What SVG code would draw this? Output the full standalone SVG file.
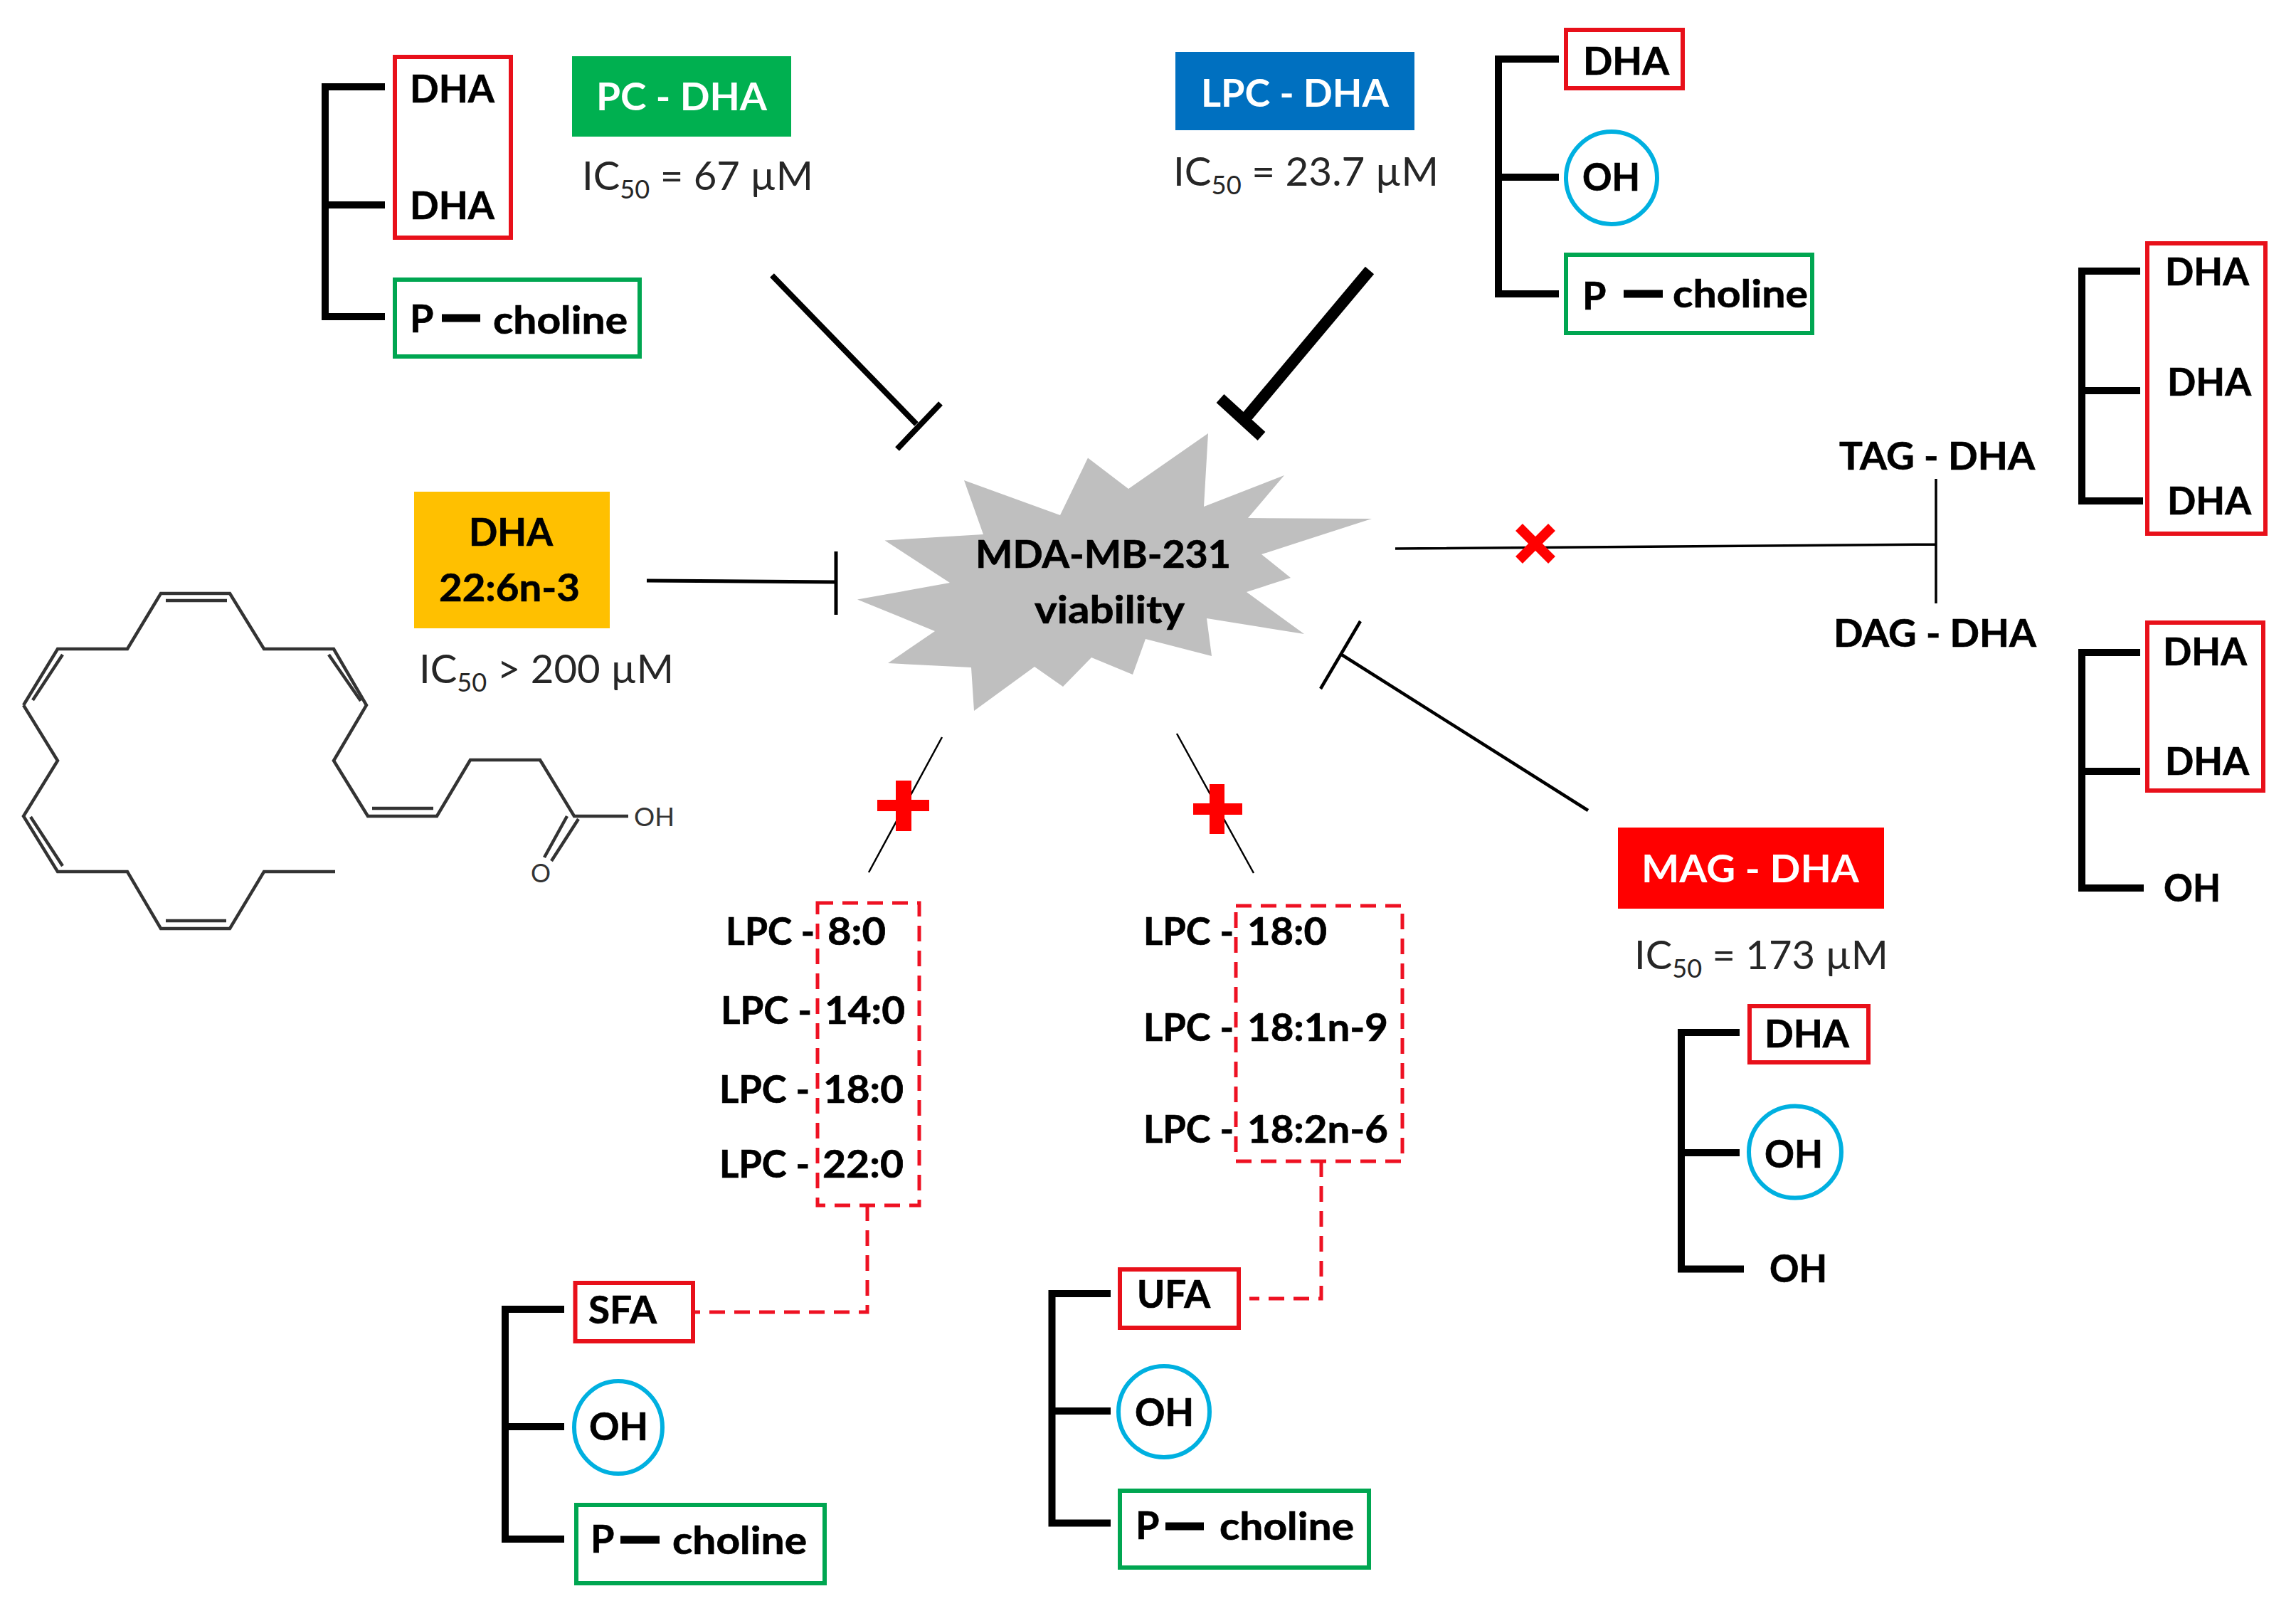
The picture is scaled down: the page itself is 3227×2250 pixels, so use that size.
<svg xmlns="http://www.w3.org/2000/svg" width="3227" height="2250" viewBox="0 0 3227 2250">
<style>
text{font-family:Lato,"Liberation Sans",sans-serif;fill:#000}
.b{font-weight:700;font-size:54px;stroke:#000;stroke-width:.7}
.w{font-weight:700;font-size:54px;fill:#fff}
.r{font-weight:400;font-size:56px;fill:#262626}
.s{font-size:36px}
.m{font-size:37px;fill:#333;font-weight:400}
.red{fill:#fff;stroke:#e8101a;stroke-width:6}
.grn{fill:#fff;stroke:#00a651;stroke-width:6}
.cyan{fill:#fff;stroke:#00b0e0;stroke-width:6}
.br{fill:none;stroke:#000;stroke-width:10;stroke-linejoin:miter}
.dash{stroke:#000;stroke-width:11}
.dsh{fill:none;stroke:#ee1122;stroke-width:5;stroke-dasharray:22 13}
.ln{fill:none;stroke:#000}
.mol{fill:none;stroke:#333;stroke-width:4.5;stroke-linejoin:miter}
</style>
<rect width="3227" height="2250" fill="#fff"/>
<g id="connectors">
<path class="ln" stroke-width="8" d="M1085 387L1288 596M1322 567L1261 631"/>
<path class="ln" stroke-width="16" d="M1925 380L1753 585M1715 560L1773 613"/>
<path class="ln" stroke-width="5" d="M909 816L1175 818M1175 775V864"/>
<path class="ln" stroke-width="3.5" stroke="#333" d="M1961 771L2721 765M2721 673V848"/>
<path class="ln" stroke-width="4.5" d="M1912 873L1856 968M1884 919L2232 1139"/>
<path class="ln" stroke-width="2.5" d="M1324 1036L1221 1226M1654 1031L1762 1227"/>
<path class="dsh" d="M1219 1694V1844H974M1857 1632V1825H1756"/>
</g>
<g id="burst">
<polygon fill="#bfbfbf" points="1243.5,759.5 1382,751 1355,675 1490,724 1529,643.5 1586,687 1698,609 1692,712 1805,668 1754,728 1928,729 1773,779 1814,812 1752,832 1833,891 1696,869 1703,922 1610,898 1592,948 1534,924 1494,965 1454,937 1369,999 1365,938 1248,932 1314,887 1205,842.5 1335,819"/>
<text class="b" x="1371" y="798" textLength="359" lengthAdjust="spacingAndGlyphs">MDA-MB-231</text>
<text class="b" x="1454" y="876" textLength="211" lengthAdjust="spacingAndGlyphs">viability</text>
</g>
<g id="marks">
<path fill="#f00" d="M1259 1097h22v27h25v16h-25v28h-22v-28h-26v-16h26zM1700 1102h21v27h25v16h-25v27h-21v-27h-23v-16h23z"/>
<path stroke="#f00" stroke-width="14" d="M2135 741L2181 787M2181 741L2135 787"/>
</g>
<g id="pc-dha">
<path class="br" d="M541 122H457V445H541M457 288H541"/>
<rect class="red" x="555" y="80" width="163" height="254"/>
<text class="b" x="576" y="144" textLength="119" lengthAdjust="spacingAndGlyphs">DHA</text>
<text class="b" x="576" y="308" textLength="119" lengthAdjust="spacingAndGlyphs">DHA</text>
<rect class="grn" x="555" y="393" width="344" height="108"/>
<text class="b" x="576" y="467">P</text>
<path class="dash" d="M621 447H675"/>
<text class="b" x="693" y="469" textLength="189" lengthAdjust="spacingAndGlyphs">choline</text>
<rect x="804" y="79" width="308" height="113" fill="#00b050"/>
<text class="w" x="838" y="155" textLength="240" lengthAdjust="spacingAndGlyphs">PC - DHA</text>
<text class="r" x="818" y="267" textLength="325" lengthAdjust="spacingAndGlyphs">IC<tspan class="s" dy="12">50</tspan><tspan dy="-12"> = 67 µM</tspan></text>
</g>
<g id="dha">
<rect x="582" y="691" width="275" height="192" fill="#ffc000"/>
<text class="b" x="659" y="767" textLength="118" lengthAdjust="spacingAndGlyphs">DHA</text>
<text class="b" x="617" y="845" textLength="198" lengthAdjust="spacingAndGlyphs">22:6n-3</text>
<text class="r" x="589" y="960" textLength="358" lengthAdjust="spacingAndGlyphs">IC<tspan class="s" dy="12">50</tspan><tspan dy="-12"> &gt; 200 µM</tspan></text>
</g>
<g id="molecule">
<path class="mol" d="M33 991L81 912H179L226 834H323L371 912H469L515 991L469 1069L517 1147H614L661 1068H759L807 1147H883M33 991L81 1069L33 1147L81 1225H179L226 1305H323L371 1225H471"/>
<path class="mol" d="M233 844H319M88 920L46 984M462 920L507 985M523 1136H609M43 1148L88 1217M233 1294H318M797 1147L765 1205M813 1151L775 1210"/>
<text class="m" x="891" y="1161" textLength="57" lengthAdjust="spacingAndGlyphs">OH</text>
<text class="m" x="746" y="1240" textLength="28" lengthAdjust="spacingAndGlyphs">O</text>
</g>
<g id="lpc-dha">
<rect x="1652" y="73" width="336" height="110" fill="#0070c0"/>
<text class="w" x="1688" y="150" textLength="264" lengthAdjust="spacingAndGlyphs">LPC - DHA</text>
<text class="r" x="1649" y="261" textLength="373" lengthAdjust="spacingAndGlyphs">IC<tspan class="s" dy="12">50</tspan><tspan dy="-12"> = 23.7 µM</tspan></text>
<path class="br" d="M2191 83H2106V413H2191M2106 249H2191"/>
<rect class="red" x="2201" y="42" width="164" height="82"/>
<text class="b" x="2225" y="105" textLength="121" lengthAdjust="spacingAndGlyphs">DHA</text>
<ellipse class="cyan" cx="2265" cy="250" rx="64" ry="65"/>
<text class="b" x="2224" y="268" textLength="81" lengthAdjust="spacingAndGlyphs">OH</text>
<rect class="grn" x="2201" y="358" width="346" height="110"/>
<text class="b" x="2224" y="435">P</text>
<path class="dash" d="M2282 413H2337"/>
<text class="b" x="2351" y="432" textLength="190" lengthAdjust="spacingAndGlyphs">choline</text>
</g>
<g id="tag-dha">
<text class="b" x="2585" y="660" textLength="275" lengthAdjust="spacingAndGlyphs">TAG - DHA</text>
<path class="br" d="M3008 381H2926V704H3012M2926 549H3008"/>
<rect class="red" x="3018" y="342" width="166" height="408"/>
<text class="b" x="3043" y="401" textLength="118" lengthAdjust="spacingAndGlyphs">DHA</text>
<text class="b" x="3046" y="556" textLength="118" lengthAdjust="spacingAndGlyphs">DHA</text>
<text class="b" x="3046" y="723" textLength="118" lengthAdjust="spacingAndGlyphs">DHA</text>
</g>
<g id="dag-dha">
<text class="b" x="2577" y="909" textLength="285" lengthAdjust="spacingAndGlyphs">DAG - DHA</text>
<path class="br" d="M3008 917H2926V1248H3013M2926 1084H3008"/>
<rect class="red" x="3018" y="875" width="163" height="236"/>
<text class="b" x="3040" y="935" textLength="118" lengthAdjust="spacingAndGlyphs">DHA</text>
<text class="b" x="3043" y="1089" textLength="118" lengthAdjust="spacingAndGlyphs">DHA</text>
<text class="b" x="3041" y="1267" textLength="80" lengthAdjust="spacingAndGlyphs">OH</text>
</g>
<g id="mag-dha">
<rect x="2274" y="1163" width="374" height="114" fill="#f00"/>
<text class="w" x="2307" y="1240" textLength="306" lengthAdjust="spacingAndGlyphs">MAG - DHA</text>
<text class="r" x="2297" y="1362" textLength="357" lengthAdjust="spacingAndGlyphs">IC<tspan class="s" dy="12">50</tspan><tspan dy="-12"> = 173 µM</tspan></text>
<path class="br" d="M2445 1451H2363V1783.5H2451M2363 1620H2445"/>
<rect class="red" x="2459" y="1414" width="167" height="79"/>
<text class="b" x="2480" y="1472" textLength="119" lengthAdjust="spacingAndGlyphs">DHA</text>
<ellipse class="cyan" cx="2523" cy="1619" rx="65" ry="64.5"/>
<text class="b" x="2480" y="1641" textLength="82" lengthAdjust="spacingAndGlyphs">OH</text>
<text class="b" x="2487" y="1802" textLength="81" lengthAdjust="spacingAndGlyphs">OH</text>
</g>
<g id="lpc-saturated">
<rect class="dsh" x="1149" y="1269" width="143" height="425"/>
<text class="b" x="1020" y="1328" textLength="125" lengthAdjust="spacingAndGlyphs">LPC -</text>
<text class="b" x="1163" y="1328" textLength="82" lengthAdjust="spacingAndGlyphs">8:0</text>
<text class="b" x="1013" y="1439" textLength="128" lengthAdjust="spacingAndGlyphs">LPC -</text>
<text class="b" x="1159" y="1439" textLength="113" lengthAdjust="spacingAndGlyphs">14:0</text>
<text class="b" x="1011" y="1550" textLength="127" lengthAdjust="spacingAndGlyphs">LPC -</text>
<text class="b" x="1157" y="1550" textLength="113" lengthAdjust="spacingAndGlyphs">18:0</text>
<text class="b" x="1011" y="1655" textLength="127" lengthAdjust="spacingAndGlyphs">LPC -</text>
<text class="b" x="1156" y="1655" textLength="114" lengthAdjust="spacingAndGlyphs">22:0</text>
</g>
<g id="lpc-unsaturated">
<rect class="dsh" x="1737" y="1273" width="234" height="359"/>
<text class="b" x="1607" y="1328" textLength="127" lengthAdjust="spacingAndGlyphs">LPC -</text>
<text class="b" x="1753" y="1328" textLength="112" lengthAdjust="spacingAndGlyphs">18:0</text>
<text class="b" x="1607" y="1463" textLength="127" lengthAdjust="spacingAndGlyphs">LPC -</text>
<text class="b" x="1753" y="1463" textLength="198" lengthAdjust="spacingAndGlyphs">18:1n-9</text>
<text class="b" x="1607" y="1606" textLength="127" lengthAdjust="spacingAndGlyphs">LPC -</text>
<text class="b" x="1753" y="1606" textLength="198" lengthAdjust="spacingAndGlyphs">18:2n-6</text>
</g>
<g id="sfa">
<path class="br" d="M793 1840H710V2163H793M710 2005H793"/>
<rect class="red" x="808.5" y="1803" width="165.5" height="82"/>
<text class="b" x="827" y="1860" textLength="96" lengthAdjust="spacingAndGlyphs">SFA</text>
<ellipse class="cyan" cx="869" cy="2006" rx="62" ry="65"/>
<text class="b" x="828" y="2024" textLength="83" lengthAdjust="spacingAndGlyphs">OH</text>
<rect class="grn" x="810" y="2115" width="349" height="110"/>
<text class="b" x="830" y="2182">P</text>
<path class="dash" d="M872 2164H927"/>
<text class="b" x="945" y="2184" textLength="189" lengthAdjust="spacingAndGlyphs">choline</text>
</g>
<g id="ufa">
<path class="br" d="M1561 1818H1478.5V2140.5H1561M1478.5 1983H1561"/>
<rect class="red" x="1574" y="1784" width="167" height="82"/>
<text class="b" x="1598" y="1838" textLength="103" lengthAdjust="spacingAndGlyphs">UFA</text>
<ellipse class="cyan" cx="1636" cy="1984" rx="64" ry="64"/>
<text class="b" x="1595" y="2004" textLength="83" lengthAdjust="spacingAndGlyphs">OH</text>
<rect class="grn" x="1574" y="2095" width="350" height="108"/>
<text class="b" x="1596" y="2163">P</text>
<path class="dash" d="M1638 2145H1692"/>
<text class="b" x="1714" y="2164" textLength="189" lengthAdjust="spacingAndGlyphs">choline</text>
</g>
</svg>
